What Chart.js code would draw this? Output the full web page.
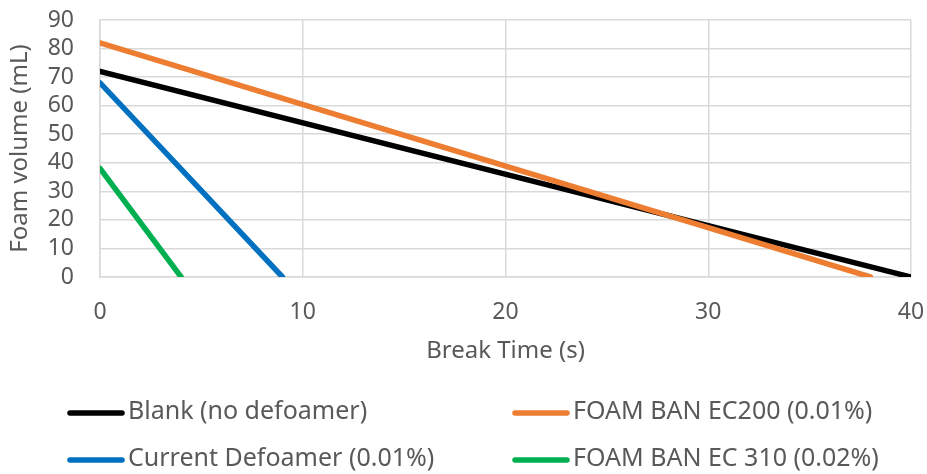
<!DOCTYPE html>
<html>
<head>
<meta charset="utf-8">
<script src="https://cdn.jsdelivr.net/npm/chart.js@4/dist/chart.umd.min.js"></script>
<style>
  html, body { margin: 0; padding: 0; background: #fff; }
  #wrap { width: 927px; height: 474px; }
</style>
</head>
<body>
<div id="wrap"><canvas id="lineChart" width="927" height="474"></canvas></div>
<script>
// series labels
const seriesNames = ['Blank (no defoamer)', 'FOAM BAN EC200 (0.01%)', 'Current Defoamer (0.01%)', 'FOAM BAN EC 310 (0.02%)'];
const seriesColors = ['#000000', '#ED7D31', '#0070C0', '#00B050'];

// break time (s) and foam volume (mL) per series
const blankTime = [0, 40];
const blankVolume = [72, 0];
const ec200Time = [0, 38];
const ec200Volume = [82, 0];
const currentTime = [0, 9];
const currentVolume = [68, 0];
const ec310Time = [0, 4];
const ec310Volume = [38, 0];

const xTicks = [0, 10, 20, 30, 40];
const yTicks = [0, 10, 20, 30, 40, 50, 60, 70, 80, 90];

const FONT = "'Noto Sans', sans-serif";
const TEXT = '#595959';

function pts(xs, ys) {
  return xs.map((x, i) => ({ x: x, y: ys[i] }));
}

const allData = [
  pts(blankTime, blankVolume),
  pts(ec200Time, ec200Volume),
  pts(currentTime, currentVolume),
  pts(ec310Time, ec310Volume)
];

// two-column legend under the chart
const gridLegend = {
  id: 'gridLegend',
  afterDraw(chart) {
    const ctx = chart.ctx;
    ctx.save();
    ctx.font = '25px ' + FONT;
    ctx.textBaseline = 'middle';
    chart.data.datasets.forEach((ds, i) => {
      const col = i % 2, row = Math.floor(i / 2);
      const x0 = col === 0 ? 70 : 515;
      const y = row === 0 ? 412 : 459;
      ctx.strokeStyle = ds.borderColor;
      ctx.lineWidth = 5.5;
      ctx.lineCap = 'round';
      ctx.beginPath();
      ctx.moveTo(x0, y + 1);
      ctx.lineTo(x0 + 52, y + 1);
      ctx.stroke();
      ctx.fillStyle = TEXT;
      ctx.fillText(ds.label, x0 + 58, y);
    });
    ctx.restore();
  }
};

const ctx = document.getElementById('lineChart');
new Chart(ctx, {
  type: 'line',
  data: {
    datasets: seriesNames.map((name, i) => ({
      label: name,
      data: allData[i],
      borderColor: seriesColors[i],
      backgroundColor: seriesColors[i],
      borderWidth: 5.5,
      borderCapStyle: 'round',
      pointRadius: 0,
      tension: 0,
      order: 4 - i
    }))
  },
  options: {
    responsive: false,
    animation: false,
    layout: { padding: { left: 0, right: 16, top: 20, bottom: 107 } },
    plugins: { legend: { display: false }, tooltip: { enabled: false } },
    scales: {
      x: {
        type: 'linear',
        min: 0,
        max: 40,
        afterBuildTicks: s => { s.ticks = xTicks.map(v => ({ value: v })); },
        afterFit: s => { s.height = 90; s.paddingLeft = 0; s.paddingRight = 0; },
        grid: { color: '#d9d9d9', lineWidth: 1.5, drawTicks: false },
        border: { color: '#d9d9d9', width: 1.5 },
        ticks: { padding: 22, autoSkip: false, maxRotation: 0, color: TEXT, font: { family: FONT, size: 23 } },
        title: { display: true, text: 'Break Time (s)', color: TEXT, padding: { top: 0, bottom: 1 }, font: { family: FONT, size: 24 } }
      },
      y: {
        min: 0,
        max: 90,
        afterBuildTicks: s => { s.ticks = yTicks.map(v => ({ value: v })); },
        afterFit: s => { s.width = 100; s.paddingTop = 0; s.paddingBottom = 0; },
        grid: { color: '#d9d9d9', lineWidth: 1.5, drawTicks: false },
        border: { color: '#d9d9d9', width: 1.5 },
        ticks: { padding: 26, autoSkip: false, color: TEXT, font: { family: FONT, size: 23 } },
        title: { display: true, text: 'Foam volume (mL)', color: TEXT, padding: { top: 6, bottom: 0 }, font: { family: FONT, size: 24 } }
      }
    }
  },
  plugins: [gridLegend]
});
</script>
</body>
</html>
